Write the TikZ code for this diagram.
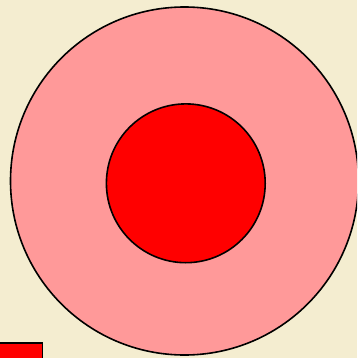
\documentclass[tikz,border=0pt]{standalone}
\definecolor{parch}{HTML}{F4EDD0}
\definecolor{pinkfill}{HTML}{FF9999}
\definecolor{redfill}{HTML}{FF0000}
\tikzset{shapeline/.style={draw=black,line width=1.6pt}}
\begin{document}
\begin{tikzpicture}[x=1pt,y=-1pt]
\useasboundingbox (0,0) rectangle (357,358);
\fill[parch] (0,0) rectangle (357,358);
\begin{scope}
\clip (0,0) rectangle (357,358);
\draw[shapeline,fill=pinkfill] (184.5,181) circle[radius=174];
\draw[shapeline,fill=redfill] (185.8,183.3) circle[radius=79.4];
\draw[shapeline,fill=redfill] (-5,342.7) rectangle (42.3,365);
\end{scope}
\end{tikzpicture}
\end{document}
